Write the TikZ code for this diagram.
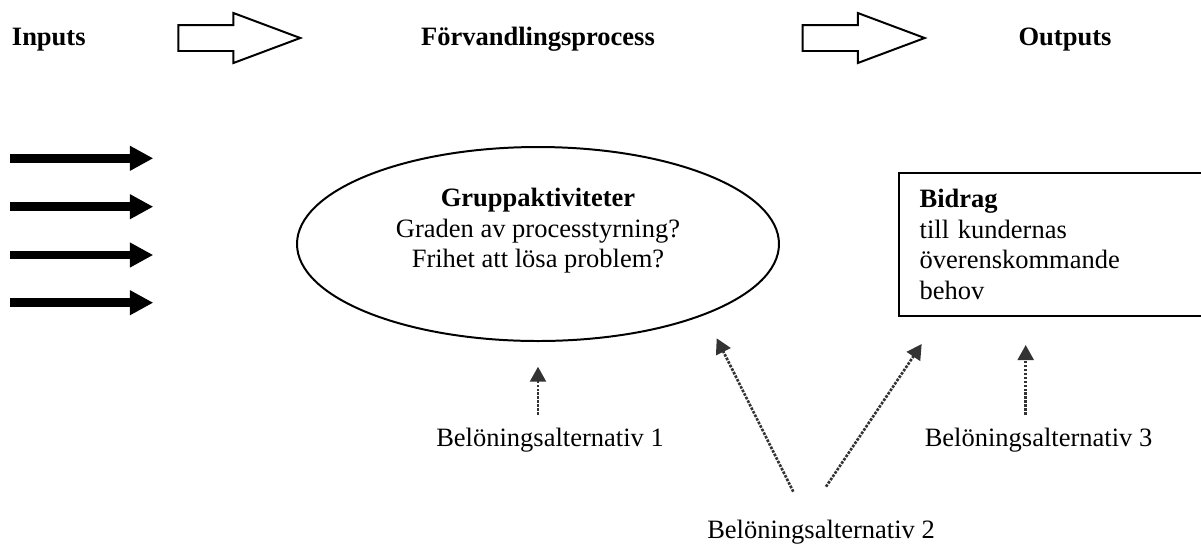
\documentclass[tikz,border=0pt]{standalone}
\usepackage{fontspec}
\setmainfont{Liberation Serif}
\usetikzlibrary{arrows.meta,shapes.geometric,shapes.arrows}
\newcommand\pxl{0.4528pt}
\definecolor{rewardgray}{HTML}{333333}

\begin{document}
\begin{tikzpicture}[
	x=\pxl, y=-\pxl,
	every node/.style = {inner sep=0pt, font=\fontsize{12pt}{13.8pt}\selectfont},
	headline/.style = {font=\fontsize{12pt}{13.8pt}\selectfont\bfseries, anchor=base},
	flowarrow/.style = {draw, line width=0.9pt, single arrow, anchor=tail, single arrow tip angle=41, single arrow head extend=5.43pt, single arrow head indent=0pt, inner xsep=0pt, inner ysep=5.43pt, minimum height=55.24pt},
	inarrow/.style = {line width=3.9pt, -{Triangle[length=10.6pt, width=10.6pt]}},
	process/.style = {draw, ellipse, line width=0.9pt, minimum width=218.25pt, minimum height=87.84pt},
	result/.style = {draw, line width=0.9pt, anchor=north west, align=left, minimum width=149.4pt, minimum height=64.9pt, text width=130.4pt, inner xsep=9.5pt},
	reward/.style = {anchor=base},
	rewardarrow/.style = {rewardgray, line width=1.2pt, dash pattern=on 1.2pt off 0.6pt, -{Triangle[length=6.8pt, width=7.2pt]}}
	]
	
	\useasboundingbox (0,0) rectangle (1201,544);
	\clip (0,0) rectangle (1201,544);
	
	% Top row
	\node[headline, anchor=base west] (inputs) at (11.5,45) {Inputs};
	\node[flowarrow] (flow1) at (177.3,38) {};
	\node[headline] (process) at (538,45) {Förvandlingsprocess};
	\node[flowarrow] (flow2) at (801.7,38) {};
	\node[headline] (outputs) at (1065,45) {Outputs};
	
	% Input arrows
	\foreach \y [count=\i] in {158.3,206.7,255,302.7} {
		\coordinate (ins\i) at (10,\y);
		\coordinate (ine\i) at (153.3,\y);
		\draw[inarrow] (ins\i) -- (ine\i);
	}
	
	% Process and result
	\node[process] (group) at (538,244) {};
	\node[align=center] (grouptext) at (538,231) {\textbf{Gruppaktiviteter}\\Graden av processtyrning?\\Frihet att lösa problem?};
	\node[result] (contrib) at (897.7,171.7) {\textbf{Bidrag}\\till kundernas\\överenskommande\\behov};
	
	% Reward alternatives
	\node[reward] (reward1) at (550,446) {Belöningsalternativ 1};
	\node[reward] (reward2) at (821,538) {Belöningsalternativ 2};
	\node[reward] (reward3) at (1038.5,446) {Belöningsalternativ 3};
	
	\coordinate (r1s) at (538,415);
	\coordinate (r1e) at (538,366.7);
	\coordinate (r2as) at (793.3,491.7);
	\coordinate (r2ae) at (716.7,338.3);
	\coordinate (r2bs) at (826,486.7);
	\coordinate (r2be) at (921.7,344);
	\coordinate (r3s) at (1025.7,415);
	\coordinate (r3e) at (1025.7,345);
	
	\draw[rewardarrow] (r1s) -- (r1e);
	\draw[rewardarrow] (r2as) -- (r2ae);
	\draw[rewardarrow] (r2bs) -- (r2be);
	\draw[rewardarrow] (r3s) -- (r3e);
	
\end{tikzpicture}
\end{document}
